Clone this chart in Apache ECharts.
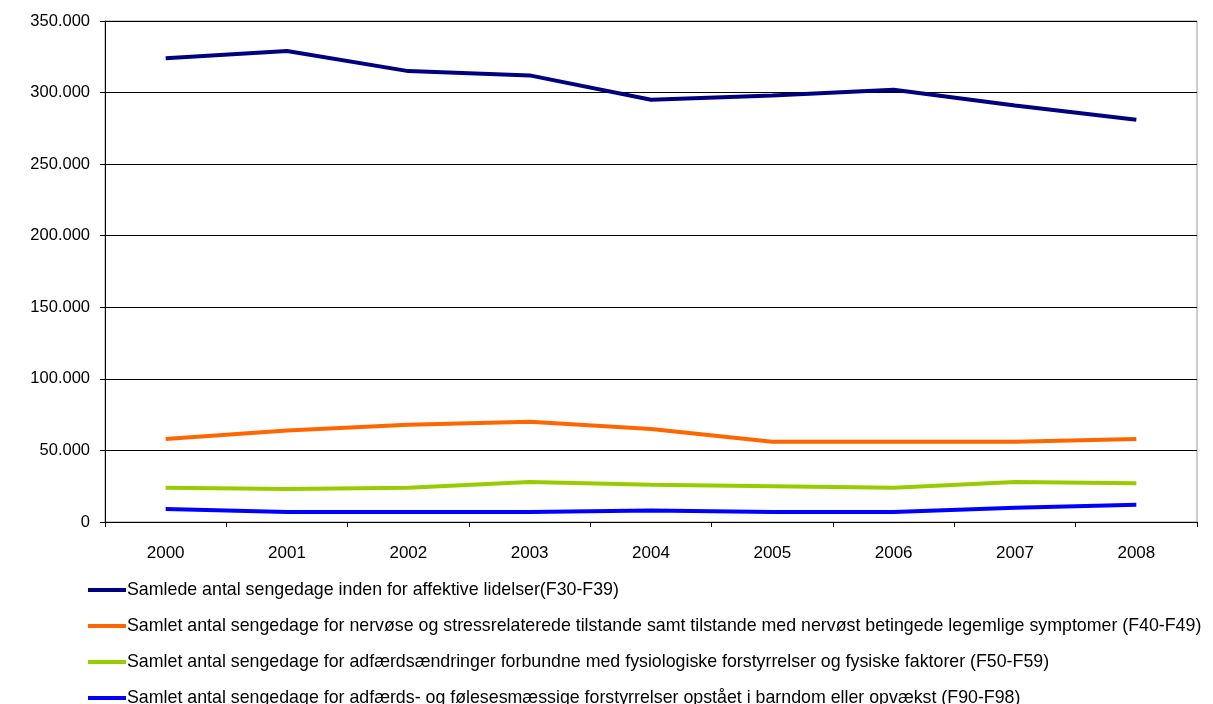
<!DOCTYPE html>
<html>
<head>
<meta charset="utf-8">
<script src="https://cdn.jsdelivr.net/npm/echarts@6/dist/echarts.min.js"></script>
<style>html,body{margin:0;padding:0;background:#fff;}#c{width:1213px;height:704px;}</style>
</head>
<body>
<div id="c"></div>
<script>
const years = ['2000','2001','2002','2003','2004','2005','2006','2007','2008'];
const affektive = [324000, 329000, 315000, 312000, 295000, 298000, 302000, 291000, 281000];
const nervose = [58000, 64000, 68000, 70000, 65000, 56000, 56000, 56000, 58000];
const adfaerd = [24000, 23000, 24000, 28000, 26000, 25000, 24000, 28000, 27000];
const barndom = [9000, 7000, 7000, 7000, 8000, 7000, 7000, 10000, 12000];
const names = [
  'Samlede antal sengedage inden for affektive lidelser(F30-F39)',
  'Samlet antal sengedage for nervøse og stressrelaterede tilstande samt tilstande med nervøst betingede legemlige symptomer (F40-F49)',
  'Samlet antal sengedage for adfærdsændringer forbundne med fysiologiske forstyrrelser og fysiske faktorer (F50-F59)',
  'Samlet antal sengedage for adfærds- og følesesmæssige forstyrrelser opstået i barndom eller opvækst (F90-F98)'
];
const colors = ['#000080', '#FF6600', '#99CC00', '#0000FF'];
const values = [affektive, nervose, adfaerd, barndom];

const chart = echarts.init(document.getElementById('c'), null, {renderer: 'canvas'});
const font = 'Liberation Sans, Arial, sans-serif';
chart.setOption({
  animation: false,
  color: colors,
  grid: {left: 105, right: 16, top: 21, bottom: 182, show: true, borderColor: '#999', borderWidth: 1, containLabel: false},
  xAxis: {
    type: 'category', data: years, boundaryGap: true,
    axisLine: {lineStyle: {color: '#000', width: 1}},
    axisTick: {show: true, length: 5, inside: false, lineStyle: {color: '#000'}},
    axisLabel: {fontFamily: font, fontSize: 17, color: '#000', margin: 23},
    splitLine: {show: false}
  },
  yAxis: {
    type: 'value', min: 0, max: 350000, interval: 50000,
    axisLine: {show: true, lineStyle: {color: '#000', width: 1}},
    axisTick: {show: true, length: 5, lineStyle: {color: '#000'}},
    axisLabel: {fontFamily: font, fontSize: 16.5, color: '#000', margin: 15,
      formatter: v => v === 0 ? '0' : (v/1000).toFixed(0) + '.000'},
    splitLine: {show: true, lineStyle: {color: '#000', width: 1}}
  },
  legend: {
    orient: 'vertical', left: 88, top: 581, height: 200, padding: 0,
    itemWidth: 38, itemHeight: 4, itemGap: 18,
    icon: 'rect',
    textStyle: {fontFamily: font, fontSize: 17.8, color: '#000', padding: [0,0,0,-4]},
    data: names
  },
  series: values.map((v, i) => ({
    name: names[i], type: 'line', data: v,
    symbol: 'none', showSymbol: false,
    lineStyle: {width: 4, color: colors[i]},
    itemStyle: {color: colors[i]}
  }))
});
</script>
</body>
</html>
